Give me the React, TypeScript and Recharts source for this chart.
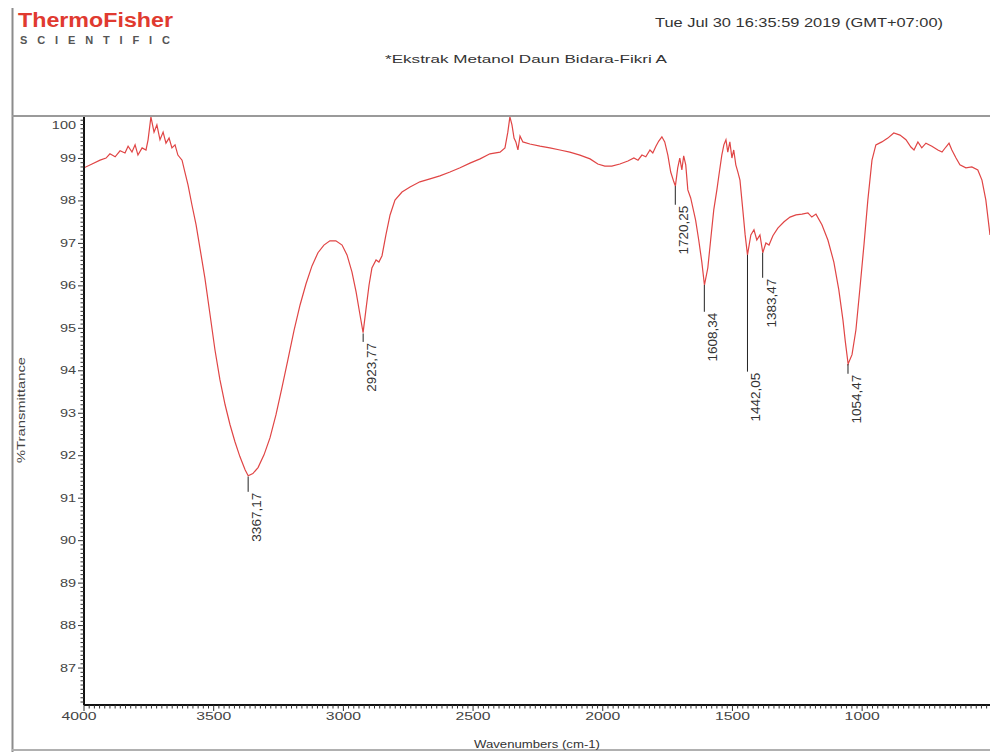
import React from "react";
import { LineChart, Line, XAxis, YAxis, ReferenceLine, ReferenceDot } from "recharts";

const wavenumbers = [
  4000, 3969, 3938, 3915, 3900, 3880, 3861, 3842, 3830, 3815, 3803, 3792, 3776, 3761, 3753, 3742, 3730, 3719,
  3707, 3695, 3684, 3672, 3661, 3649, 3638, 3622, 3611, 3599, 3584, 3568, 3553, 3534, 3514, 3495, 3476, 3456,
  3437, 3418, 3399, 3379, 3367, 3349, 3329, 3306, 3283, 3260, 3237, 3214, 3190, 3167, 3144, 3121, 3098, 3075,
  3052, 3029, 3005, 2986, 2967, 2951, 2936, 2924, 2913, 2901, 2890, 2874, 2863, 2851, 2836, 2820, 2801, 2774,
  2743, 2705, 2666, 2628, 2589, 2550, 2512, 2473, 2435, 2396, 2377, 2366, 2358, 2350, 2342, 2335, 2327, 2319,
  2308, 2281, 2242, 2204, 2165, 2127, 2088, 2049, 2019, 1992, 1965, 1934, 1903, 1880, 1864, 1849, 1834, 1818,
  1807, 1795, 1784, 1772, 1761, 1749, 1738, 1726, 1720, 1711, 1703, 1695, 1688, 1680, 1672, 1661, 1649, 1642,
  1630, 1618, 1608, 1595, 1584, 1572, 1560, 1552, 1541, 1533, 1525, 1518, 1510, 1502, 1495, 1487, 1479, 1471,
  1460, 1451, 1442, 1429, 1417, 1406, 1394, 1383, 1371, 1359, 1344, 1325, 1301, 1278, 1255, 1232, 1209, 1194,
  1178, 1155, 1132, 1109, 1090, 1074, 1065, 1054, 1039, 1024, 1009, 993, 978, 962, 947, 924, 901, 878, 854,
  831, 812, 800, 785, 770, 754, 731, 708, 692, 677, 665, 654, 638, 623, 600, 577, 554, 538, 523, 507,
];

const transmittance = [
  98.78, 98.87, 98.96, 99.01, 99.11, 99.04, 99.18, 99.13, 99.29, 99.15, 99.32, 99.08, 99.25, 99.2, 99.44, 99.98, 99.62, 99.79,
  99.44, 99.62, 99.36, 99.48, 99.25, 99.32, 99.08, 98.96, 98.68, 98.38, 97.91, 97.44, 96.89, 96.19, 95.32, 94.49, 93.79, 93.2,
  92.73, 92.33, 91.98, 91.67, 91.53, 91.58, 91.72, 92.02, 92.42, 92.96, 93.6, 94.26, 94.96, 95.55, 96.05, 96.47, 96.78, 96.96,
  97.06, 97.06, 96.96, 96.73, 96.33, 95.86, 95.32, 94.9, 95.44, 96.02, 96.42, 96.61, 96.56, 96.71, 97.2, 97.67, 98.02, 98.21,
  98.33, 98.45, 98.52, 98.59, 98.68, 98.78, 98.89, 98.99, 99.11, 99.15, 99.25, 99.62, 99.98, 99.79, 99.48, 99.39, 99.2, 99.53,
  99.39, 99.34, 99.29, 99.25, 99.2, 99.15, 99.08, 98.99, 98.87, 98.82, 98.82, 98.87, 98.94, 99.01, 98.96, 99.08, 99.04, 99.2,
  99.13, 99.29, 99.41, 99.51, 99.39, 99.08, 98.68, 98.45, 98.35, 98.78, 99.01, 98.73, 99.06, 98.85, 98.26, 98.07, 97.74, 97.55,
  97.08, 96.56, 96.02, 96.42, 97.08, 97.79, 98.26, 98.61, 99.08, 99.32, 99.44, 99.15, 99.39, 99.01, 99.2, 98.85, 98.68, 98.49,
  97.79, 97.2, 96.73, 97.2, 97.32, 97.08, 97.2, 96.78, 97.01, 96.96, 97.18, 97.36, 97.51, 97.62, 97.67, 97.69, 97.72, 97.62,
  97.69, 97.44, 97.08, 96.56, 95.91, 95.2, 94.7, 94.16, 94.38, 94.96, 95.91, 96.96, 98.02, 98.96, 99.32, 99.39, 99.48, 99.6, 99.55,
  99.44, 99.27, 99.2, 99.39, 99.25, 99.36, 99.29, 99.2, 99.15, 99.27, 99.36, 99.2, 99.01, 98.85, 98.78, 98.8, 98.73, 98.49, 98.02, 97.2,
];

const xTicks = [4000, 3500, 3000, 2500, 2000, 1500, 1000];
const yTicks = [87, 88, 89, 90, 91, 92, 93, 94, 95, 96, 97, 98, 99, 100];

const peakWavenumbers = [3367.17, 2923.77, 1720.25, 1608.34, 1442.05, 1383.47, 1054.47];
const peakTroughs = [91.51, 94.88, 98.35, 96.02, 96.73, 96.78, 94.16];
const peakLabelTops = [91.15, 94.68, 97.91, 95.39, 93.98, 96.19, 93.93];

const data = wavenumbers.map((wn, i) => ({ wn, t: transmittance[i] }));

// minor tick positions
const xAllTicks = Array.from({ length: 175 }, (_, i) => 4000 - i * 20).filter((v) => v >= 507);
const yAllTicks = Array.from({ length: 139 }, (_, i) => Math.round((86.2 + i * 0.1) * 10) / 10).filter((v) => v <= 100);

const FONT = "'Liberation Sans', Arial, sans-serif";
const TICK_SIZE = 5;
const TICK_MARGIN = 2;

const YTick = ({ x, y, payload }: any) => {
  const v = payload.value;
  const major = Math.abs(v - Math.round(v)) < 1e-6;
  const lineX = x + TICK_SIZE + TICK_MARGIN;
  return (
    <g>
      <line x1={lineX - (major ? 6 : 3.5)} x2={lineX} y1={y} y2={y} stroke="#333" strokeWidth={1} />
      {major && yTicks.includes(Math.round(v)) && (
        <g transform={`translate(${x - 1},${y + (v === 100 ? 9 : 0)})`}>
          <text textAnchor="end" dy={3.5} fontSize={10} fill="#444" fontFamily={FONT} transform="scale(1.45,1)">
            {Math.round(v)}
          </text>
        </g>
      )}
    </g>
  );
};

const XTick = ({ x, y, payload }: any) => {
  const v = payload.value;
  const major = v % 500 === 0;
  const lineY = y - TICK_SIZE - TICK_MARGIN;
  return (
    <g>
      <line x1={x} x2={x} y1={lineY} y2={lineY + (major ? 6 : 3.5)} stroke="#333" strokeWidth={1} />
      {major && xTicks.includes(v) && (
        <g transform={`translate(${x - (v === 4000 ? 5 : 0)},${y})`}>
          <text textAnchor="middle" dy={8} fontSize={10.5} fill="#444" fontFamily={FONT} transform="scale(1.5,1)">
            {v}
          </text>
        </g>
      )}
    </g>
  );
};

const peakText = (v: number) => v.toFixed(2).replace(".", ",");

export default function App() {
  return (
    <div style={{ position: "absolute", left: 0, top: 0, width: 990, height: 752, background: "#fff", overflow: "hidden" }}>
      <LineChart width={990} height={752} data={data} margin={{ top: 116, right: 0, left: 24, bottom: 17 }}>
        <XAxis
          dataKey="wn"
          type="number"
          domain={[507, 4000]}
          reversed
          allowDataOverflow
          ticks={xAllTicks}
          interval={0}
          height={30}
          tickSize={TICK_SIZE}
          tickMargin={TICK_MARGIN}
          tickLine={{ stroke: "none" }}
          axisLine={{ stroke: "#111", strokeWidth: 2 }}
          tick={<XTick />}
        />
        <YAxis
          type="number"
          domain={[86.13, 100]}
          allowDataOverflow
          ticks={yAllTicks}
          interval={0}
          width={60}
          tickSize={TICK_SIZE}
          tickMargin={TICK_MARGIN}
          tickLine={{ stroke: "none" }}
          axisLine={{ stroke: "#111", strokeWidth: 2 }}
          tick={<YTick />}
        />
        <Line
          type="linear"
          dataKey="t"
          stroke="#e04545"
          strokeWidth={1.2}
          dot={false}
          isAnimationActive={false}
        />
        {peakWavenumbers.map((wn, i) => (
          <ReferenceLine
            key={`pl-${i}`}
            segment={[
              { x: wn, y: peakTroughs[i] },
              { x: wn, y: peakLabelTops[i] },
            ]}
            stroke="#222"
            strokeWidth={1}
          />
        ))}
        {peakWavenumbers.map((wn, i) => (
          <ReferenceDot
            key={`pt-${i}`}
            x={wn}
            y={peakLabelTops[i]}
            shape={(p: any) => (
              <text
                transform={`translate(${p.cx + 13},${p.cy + 1}) rotate(-90)`}
                textAnchor="end"
                fontSize={13.5}
                fill="#333"
                fontFamily={FONT}
              >
                {peakText(wn)}
              </text>
            )}
          />
        ))}
      </LineChart>
      <svg width={990} height={752} style={{ position: "absolute", left: 0, top: 0, pointerEvents: "none" }}>
        <line x1={12.5} y1={8} x2={12.5} y2={752} stroke="#8c8c8c" strokeWidth={2} />
        <line x1={12} y1={116} x2={990} y2={116} stroke="#9a9a9a" strokeWidth={2} />
        <line x1={12} y1={750} x2={990} y2={750} stroke="#b0b0b0" strokeWidth={2} />
        <text x={18} y={27} fontSize={20} fontWeight="bold" fill="#e03a30" fontFamily={FONT} textLength={155} lengthAdjust="spacingAndGlyphs">
          ThermoFisher
        </text>
        <text x={20} y={44} fontSize={11} fontWeight="bold" fill="#555" fontFamily={FONT} textLength={150} lengthAdjust="spacing">
          SCIENTIFIC
        </text>
        <text x={655} y={27} fontSize={13} fill="#333" fontFamily={FONT} textLength={288} lengthAdjust="spacingAndGlyphs">
          Tue Jul 30 16:35:59 2019 (GMT+07:00)
        </text>
        <text x={385} y={63} fontSize={11} fill="#333" fontFamily={FONT} textLength={282} lengthAdjust="spacingAndGlyphs">
          *Ekstrak Metanol Daun Bidara-Fikri A
        </text>
        <text x={474} y={748} fontSize={11} fill="#333" fontFamily={FONT} textLength={126} lengthAdjust="spacingAndGlyphs">
          Wavenumbers (cm-1)
        </text>
        <text transform="translate(25,463) rotate(-90)" fontSize={10.5} fill="#444" fontFamily={FONT} textLength={106} lengthAdjust="spacingAndGlyphs">
          %Transmittance
        </text>
      </svg>
    </div>
  );
}
